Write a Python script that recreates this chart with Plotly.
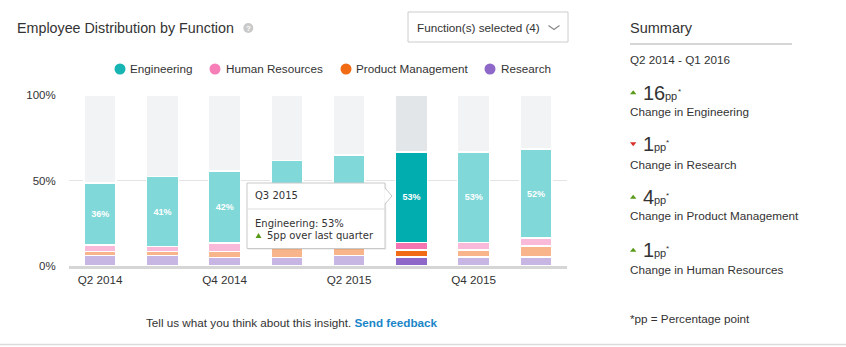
import plotly.graph_objects as go

# ---------------- data ----------------
quarters = ["Q2 2014", "Q3 2014", "Q4 2014", "Q1 2015", "Q2 2015", "Q3 2015", "Q4 2015", "Q1 2016"]
engineering = [36, 41, 42, 46, 48, 53, 53, 52]
human_resources = [4.0, 2.9, 5.1, 3.5, 3.5, 4.5, 4.5, 4.7]
product_management = [2.3, 2.3, 3.3, 7.0, 7.4, 4.0, 4.0, 6.3]
research = [6.1, 6.1, 5.1, 5.1, 6.1, 5.3, 5.3, 5.3]
x_tick_labels = ["Q2 2014", "Q4 2014", "Q2 2015", "Q4 2015"]
y_tick_values = [0, 50, 100]
y_tick_labels = ["0%", "50%", "100%"]
highlight_quarter = "Q3 2015"
covered_by_tooltip = ["Q1 2015", "Q2 2015"]
summary_period = "Q2 2014 - Q1 2016"
summary_functions = ["Engineering", "Research", "Product Management", "Human Resources"]
summary_changes = [16, -1, 4, 1]

# ---------------- styles ----------------
FONT = "Liberation Sans"
TXT = "#333333"
faded = {"eng": "#80d8d9", "hr": "#f9b9d9", "pm": "#f8b58b", "res": "#c7b6e4", "bg": "#f2f3f5"}
strong = {"eng": "#02adb0", "hr": "#f374b1", "pm": "#f06b13", "res": "#8e68c9", "bg": "#e3e6e9"}
legend_cols = {"Engineering": "#17b4b4", "Human Resources": "#f77fb8",
               "Product Management": "#f06b13", "Research": "#8e68c9"}

hi = quarters.index(highlight_quarter)


def cols(key):
    return [strong[key] if i == hi else faded[key] for i in range(len(quarters))]


remainder = [100 - (e + h + p + r) for e, h, p, r in zip(engineering, human_resources, product_management, research)]
eng_labels = ["" if q in covered_by_tooltip else f"{v:.0f}%" for q, v in zip(quarters, engineering)]

fig = go.Figure()
line = dict(color="white", width=1.5)
fig.add_bar(x=quarters, y=research, marker=dict(color=cols("res"), line=line), hoverinfo="skip")
fig.add_bar(x=quarters, y=product_management, marker=dict(color=cols("pm"), line=line), hoverinfo="skip")
fig.add_bar(x=quarters, y=human_resources, marker=dict(color=cols("hr"), line=line), hoverinfo="skip")
fig.add_bar(x=quarters, y=engineering, marker=dict(color=cols("eng"), line=line), hoverinfo="skip",
            text=eng_labels, texttemplate="<b>%{text}</b>",
            textposition="inside", insidetextanchor="middle", textangle=0,
            textfont=dict(color="white", size=9, family=FONT))
fig.add_bar(x=quarters, y=remainder, marker=dict(color=cols("bg"), line=line), hoverinfo="skip")

# plot area in pixels
L, R, T, B = 69, 567, 95, 266
W, H = 846, 347


def X(px):
    return (px - L) / (R - L)


def Y(py):
    return (B - py) / (B - T)


shapes = []
annotations = []


def ann(x, y, text, size=11.7, color=TXT, xanchor="left", yanchor="middle", family=FONT):
    if xanchor == "left":
        x -= 2
    annotations.append(dict(x=X(x), y=Y(y), xref="paper", yref="paper", text=text, showarrow=False,
                            xanchor=xanchor, yanchor=yanchor,
                            font=dict(size=size, color=color, family=family)))


def rect(x0, y0, x1, y1, fill=None, lc="rgba(0,0,0,0)", lw=0):
    shapes.append(dict(type="rect", xref="paper", yref="paper", x0=X(x0), x1=X(x1), y0=Y(y0), y1=Y(y1),
                       fillcolor=fill, line=dict(color=lc, width=lw), layer="above"))


def path(pts, fill=None, lc="rgba(0,0,0,0)", lw=0, close=False):
    d = "M" + " L".join(f"{X(a):.5f},{Y(b):.5f}" for a, b in pts) + (" Z" if close else "")
    shapes.append(dict(type="path", xref="paper", yref="paper", path=d,
                       fillcolor=fill, line=dict(color=lc, width=lw), layer="above"))


def line_(x0, y0, x1, y1, lc, lw=1):
    shapes.append(dict(type="line", xref="paper", yref="paper", x0=X(x0), x1=X(x1), y0=Y(y0), y1=Y(y1),
                       line=dict(color=lc, width=lw), layer="above"))


def circle(cx, cy, r, fill):
    shapes.append(dict(type="circle", xref="paper", yref="paper", x0=X(cx - r), x1=X(cx + r),
                       y0=Y(cy + r), y1=Y(cy - r), fillcolor=fill, line=dict(width=0), layer="above"))


# ---- header ----
ann(17, 28, "Employee Distribution by Function", size=14.3)
circle(248.3, 28, 5, "#c9c9c9")
ann(248.3, 28.3, "<b>?</b>", size=8, color="white", xanchor="center")

# dropdown
rect(408, 12, 568, 42, fill="white", lc="#cccccc", lw=1)
ann(417, 27.5, "Function(s) selected (4)", size=11.7)
path([(548.5, 25.5), (554, 29.5), (559.5, 25.5)], lc="#8a8a8a", lw=1.3)

# legend
legend_pos = [(120, 130), (215, 226), (346, 356), (490, 501)]
for (cx, tx), name in zip(legend_pos, ["Engineering", "Human Resources", "Product Management", "Research"]):
    circle(cx, 69, 5.5, legend_cols[name])
    ann(tx, 69, name, size=11.7)

# ---- tooltip ----
tx0, ty0, tx1, ty1 = 247, 183, 385, 248.5
rect(tx0 + 1, ty0 + 1, tx1 + 1.5, ty1 + 1.5, fill="rgba(0,0,0,0.06)")
rect(tx0, ty0, tx1, ty1, fill="white", lc="#c8c8c8", lw=1)
path([(384.3, 188), (392, 196), (384.3, 204)], fill="white", close=True)
path([(385, 188), (392, 196), (385, 204)], lc="#c8c8c8", lw=1)
line_(tx0, 209, tx1, 209, "#dddddd", 1)
ann(254.5, 195.5, highlight_quarter, size=10, family="DejaVu Sans")
ann(254.5, 223, f"Engineering: {engineering[hi]}%", size=10, family="DejaVu Sans")
ann(266.5, 235.5, f"{engineering[hi] - engineering[hi - 1]}pp over last quarter", size=10, family="DejaVu Sans")
path([(255.5, 238), (258.5, 233), (261.5, 238)], fill="#5a9a1a", close=True)

# ---- summary panel ----
ann(630, 28, "Summary", size=14.5)
line_(630, 44, 792, 44, "#c8c8c8", 1.5)
ann(630, 59, summary_period, size=11.7)
rows_y = [(92.5, 111.7), (144.2, 164), (197, 215.7), (250, 269)]
for (ny, ly), fn, ch in zip(rows_y, summary_functions, summary_changes):
    if ch >= 0:
        path([(630, ny + 1.8), (633.2, ny - 2.2), (636.4, ny + 1.8)], fill="#5a9a1a", close=True)
    else:
        path([(630, ny - 2), (633.2, ny + 2), (636.4, ny - 2)], fill="#d9302c", close=True)
    num = str(abs(ch))
    ann(642.5, ny, num, size=20)
    px_pp = 642.5 + 11.1 * len(num) + 0.5
    ann(px_pp, ny + 3.2, "pp", size=11)
    ann(px_pp + 12.3, ny - 1.5, "*", size=8)
    ann(630, ly, f"Change in {fn}", size=11.7)
ann(630, 318.5, "*pp = Percentage point", size=11.7)

# ---- footer ----
ann(145.5, 322, "Tell us what you think about this insight. "
    "<b><span style='color:#1a86c8'>Send feedback</span></b>", size=11.7)
line_(0, 344.5, 846, 344.5, "#dcdcdc", 1.5)

fig.update_layout(
    width=W, height=H,
    margin=dict(l=L, r=W - R, t=T, b=H - B, pad=0),
    paper_bgcolor="white", plot_bgcolor="white",
    barmode="stack", bargap=0.486, showlegend=False,
    font=dict(family=FONT, size=11.7, color=TXT),
    shapes=shapes, annotations=annotations,
    xaxis=dict(type="category", categoryorder="array", categoryarray=quarters,
               tickmode="array", tickvals=x_tick_labels, ticktext=x_tick_labels,
               ticks="outside", ticklen=1, tickcolor="rgba(0,0,0,0)",
               showline=True, linecolor="#d6d6d6", linewidth=2.5, showgrid=False,
               tickfont=dict(size=11.7, color=TXT), fixedrange=True),
    yaxis=dict(range=[0, 100], tickmode="array", tickvals=y_tick_values, ticktext=y_tick_labels,
               ticks="outside", ticklen=10, tickcolor="rgba(0,0,0,0)",
               showgrid=True, gridcolor="#e4e4e4", gridwidth=1, zeroline=False, showline=False,
               tickfont=dict(size=11.5, color=TXT), fixedrange=True),
    hovermode=False,
)

fig.write_html("out.html", config={"displayModeBar": False})
